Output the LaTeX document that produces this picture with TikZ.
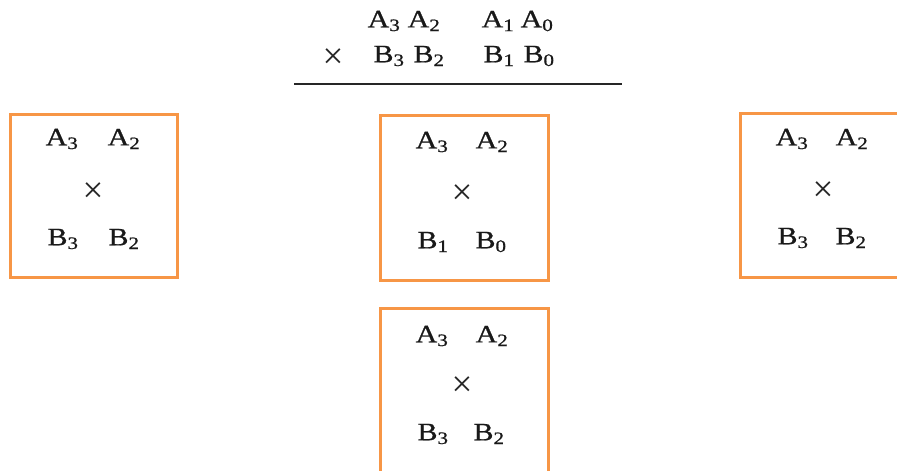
\documentclass[tikz,border=0pt]{standalone}
\usepackage{fontspec}
\setmainfont[FakeStretch=1.2,FakeBold=0.8]{Liberation Serif}
\newfontfamily\timesfont{Liberation Serif}
\definecolor{boxorange}{RGB}{247,150,70}
\newcommand{\Sb}[2]{#1\textsubscript{#2}}
\tikzset{
  prodbox/.style={draw=boxorange, line width=3pt, rectangle, inner sep=0pt},
  lbl/.style={inner sep=0pt, font=\fontsize{25}{28}\selectfont, text=black!90},
  tm/.style={inner sep=0pt, font=\timesfont\fontsize{37}{38}\selectfont, text=black!85}
}
\begin{document}
\begin{tikzpicture}[x=1pt,y=-1pt]
\clip (0,0) rectangle (897,471);
\fill[white] (0,0) rectangle (897,471);
% top multiplication
\node[lbl] (ta3) at (384,21) {\Sb{A}{3}};
\node[lbl] (ta2) at (424,21) {\Sb{A}{2}};
\node[lbl] (ta1) at (498,21) {\Sb{A}{1}};
\node[lbl] (ta0) at (537,21) {\Sb{A}{0}};
\node[tm] (ttimes) at (333,59) {×};
\node[lbl] (tb3) at (389,56) {\Sb{B}{3}};
\node[lbl] (tb2) at (429,56) {\Sb{B}{2}};
\node[lbl] (tb1) at (499,56) {\Sb{B}{1}};
\node[lbl] (tb0) at (539,56) {\Sb{B}{0}};
\coordinate (rl) at (294,84);
\coordinate (rr) at (622,84);
\draw[line width=1.8pt, black!85] (rl) -- (rr);
% boxes
\node[prodbox, minimum width=167pt, minimum height=163pt] (bl) at (93.5,195.5) {};
\node[prodbox, minimum width=168pt, minimum height=165pt] (bm) at (464,197.5) {};
\node[prodbox, minimum width=175pt, minimum height=164pt] (br) at (827.5,195) {};
\node[prodbox, minimum width=168pt, minimum height=182pt] (bb) at (464,399) {};
% left box
\node[lbl] (l1) at (62,139) {\Sb{A}{3}};
\node[lbl] (l2) at (124,139) {\Sb{A}{2}};
\node[tm] (lx) at (93,193) {×};
\node[lbl] (l3) at (63,239) {\Sb{B}{3}};
\node[lbl] (l4) at (124,239) {\Sb{B}{2}};
% middle box
\node[lbl] (m1) at (432,142) {\Sb{A}{3}};
\node[lbl] (m2) at (492,142) {\Sb{A}{2}};
\node[tm] (mx) at (462,195) {×};
\node[lbl] (m3) at (433,242) {\Sb{B}{1}};
\node[lbl] (m4) at (491,242) {\Sb{B}{0}};
% right box
\node[lbl] (r1) at (792,139) {\Sb{A}{3}};
\node[lbl] (r2) at (852,139) {\Sb{A}{2}};
\node[tm] (rx) at (823,192) {×};
\node[lbl] (r3) at (793,238) {\Sb{B}{3}};
\node[lbl] (r4) at (851,238) {\Sb{B}{2}};
% bottom box
\node[lbl] (d1) at (432,336) {\Sb{A}{3}};
\node[lbl] (d2) at (492,336) {\Sb{A}{2}};
\node[tm] (dx) at (462,387) {×};
\node[lbl] (d3) at (433,434) {\Sb{B}{3}};
\node[lbl] (d4) at (489,434) {\Sb{B}{2}};
\end{tikzpicture}
\end{document}
